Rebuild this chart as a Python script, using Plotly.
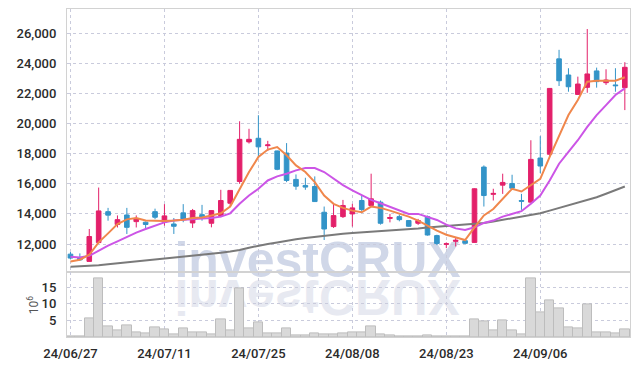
import plotly.graph_objects as go
from plotly.subplots import make_subplots

dates = ["24/06/27", "24/06/28",
         "24/07/01", "24/07/02", "24/07/03", "24/07/04", "24/07/05",
         "24/07/08", "24/07/09", "24/07/10", "24/07/11", "24/07/12",
         "24/07/15", "24/07/16", "24/07/17", "24/07/18", "24/07/19",
         "24/07/22", "24/07/23", "24/07/24", "24/07/25", "24/07/26",
         "24/07/29", "24/07/30", "24/07/31", "24/08/01", "24/08/02",
         "24/08/05", "24/08/06", "24/08/07", "24/08/08", "24/08/09",
         "24/08/12", "24/08/13", "24/08/14", "24/08/16",
         "24/08/19", "24/08/20", "24/08/21", "24/08/22", "24/08/23",
         "24/08/26", "24/08/27", "24/08/28", "24/08/29", "24/08/30",
         "24/09/02", "24/09/03", "24/09/04", "24/09/05", "24/09/06",
         "24/09/09", "24/09/10", "24/09/11", "24/09/12", "24/09/13",
         "24/09/19", "24/09/20", "24/09/23", "24/09/24"]

open_ = [11330, 11050, 10850, 12100, 14150, 13300, 13930, 13490, 13450, 14150,
         13450, 13330, 14070, 13400, 13950, 13380, 13890, 14710, 16150, 18780,
         19020, 18530, 18180, 18040, 16290, 15890, 15820, 14110, 13160, 13820,
         14000, 14890, 14560, 14780, 13700, 13820, 13560, 13380, 13820, 12560,
         11980, 12180, 12220, 12110, 17110, 15300, 15910, 16020, 14890, 14780,
         17710, 17960, 24290, 23220, 21930, 22400, 23490, 22710, 22560, 22380]
high = [11470, 11380, 13000, 15750, 14400, 13900, 14400, 13900, 13500, 14350,
        14650, 13730, 14650, 14330, 14600, 14250, 15600, 15560, 20150, 19650,
        20550, 18850, 18200, 18700, 16620, 16400, 16490, 14490, 14670, 14930,
        14670, 15220, 16670, 14890, 14000, 13960, 13580, 13670, 13890, 12620,
        12110, 12400, 12250, 15700, 17220, 15670, 16670, 16600, 15330, 18890,
        19160, 22350, 24890, 23670, 23110, 26270, 23710, 23600, 23670, 24070]
low = [10980, 10900, 10850, 12050, 13550, 13100, 12670, 13100, 12950, 13650,
       13220, 12670, 13450, 13070, 13550, 13110, 13780, 14490, 16000, 18670,
       17780, 18180, 16900, 16110, 15600, 15600, 14800, 12270, 13070, 13730,
       13160, 14110, 14510, 13290, 13440, 13510, 13150, 13270, 12560, 11930,
       11730, 11840, 12000, 12100, 14490, 14890, 15330, 15670, 14270, 14750,
       16710, 17780, 22490, 22110, 21900, 22040, 22380, 22560, 22110, 20890]
close = [11070, 10950, 12500, 14200, 13920, 13620, 13110, 13670, 13300, 13780,
         13870, 13180, 13670, 14220, 13740, 14220, 14890, 15560, 18950, 18950,
         18450, 18580, 16960, 16220, 15840, 15780, 14820, 13000, 13890, 14560,
         14400, 14290, 15000, 13380, 13760, 13620, 13180, 13560, 12600, 12040,
         12020, 12250, 12050, 15670, 15220, 15360, 16090, 15710, 14840, 17620,
         17180, 22330, 22840, 22440, 22620, 23290, 22780, 22890, 22510, 23730]

ma_short = [10840, 10960, 11290, 12110, 12710, 13330, 13640, 13730, 13560, 13530,
            13530, 13560, 13620, 13730, 13760, 13890, 14040, 14490, 15670, 16780,
            17780, 18270, 18440, 17890, 17220, 16780, 16110, 15220, 14670, 14400,
            14220, 14110, 14490, 14400, 14220, 14040, 13820, 13560, 13220, 12890,
            12620, 12440, 12270, 13110, 13900, 14330, 15000, 15670, 15490, 15930,
            16330, 17780, 19220, 20560, 21560, 22780, 22840, 22840, 22840, 23070]
ma_mid = [11160, 11110, 11220, 11560, 11890, 12180, 12490, 12760, 13000, 13220,
          13440, 13560, 13620, 13670, 13700, 13730, 13820, 14040, 14670, 15220,
          15670, 16220, 16490, 16670, 16890, 17040, 17040, 16780, 16330, 15910,
          15560, 15220, 14930, 14710, 14490, 14220, 14000, 14000, 13820, 13600,
          13290, 13040, 12930, 13110, 13400, 13560, 13820, 14000, 14180, 14670,
          15220, 16220, 17330, 18110, 18890, 19780, 20560, 21220, 21890, 22330]
ma_long = [10490, 10520, 10550, 10600, 10660, 10720, 10780, 10840, 10900, 10960,
           11020, 11080, 11140, 11200, 11270, 11340, 11420, 11500, 11600, 11760,
           11900, 12000, 12100, 12220, 12320, 12400, 12480, 12550, 12620, 12690,
           12730, 12770, 12800, 12830, 12880, 12930, 12980, 13040, 13100, 13150,
           13200, 13260, 13300, 13340, 13400, 13500, 13600, 13700, 13820, 13930,
           14040, 14220, 14390, 14560, 14740, 14920, 15110, 15340, 15580, 15820]

volume_m = [0.15, 0.1, 5.5, 17.5, 3.2, 2.0, 3.5, 1.3, 1.0, 2.8,
            2.2, 0.8, 2.6, 1.3, 1.3, 0.8, 5.2, 2.0, 14.5, 2.5,
            4.3, 1.2, 1.2, 2.6, 0.6, 0.6, 1.2, 0.9, 0.9, 1.2,
            1.5, 1.5, 3.1, 0.9, 0.6, 0.3, 0.3, 0.3, 0.6, 0.3,
            0.3, 0.3, 0.1, 5.2, 4.7, 2.0, 5.0, 2.0, 0.8, 17.5,
            7.3, 11.0, 8.6, 3.0, 2.7, 9.8, 1.3, 1.3, 1.0, 2.2]

tick_dates = ["24/06/27", "24/07/11", "24/07/25", "24/08/08", "24/08/23", "24/09/06"]
price_ticks = [12000, 14000, 16000, 18000, 20000, 22000, 24000, 26000]
vol_ticks = [5, 10, 15]

UP = "#e3206a"
DOWN = "#3394c8"
GRID = "#c9cbdc"
FRAME = "#d2d2d2"
TICKFONT = dict(family="Roboto, Liberation Sans, sans-serif", size=13, color="#2b2b2b",
                weight=500)

fig = make_subplots(rows=2, cols=1, shared_xaxes=True, vertical_spacing=0,
                    row_heights=[0.803, 0.197])

fig.add_trace(go.Scatter(x=dates, y=ma_long, mode="lines",
                         line=dict(color="#7a7a7a", width=2), hoverinfo="skip"), row=1, col=1)
fig.add_trace(go.Scatter(x=dates, y=ma_mid, mode="lines",
                         line=dict(color="#cc55e6", width=2), hoverinfo="skip"), row=1, col=1)
fig.add_trace(go.Scatter(x=dates, y=ma_short, mode="lines",
                         line=dict(color="#f0874c", width=2), hoverinfo="skip"), row=1, col=1)
fig.add_trace(go.Candlestick(x=dates, open=open_, high=high, low=low, close=close,
                             increasing=dict(line=dict(color=UP, width=1), fillcolor=UP),
                             decreasing=dict(line=dict(color=DOWN, width=1), fillcolor=DOWN),
                             whiskerwidth=0), row=1, col=1)
fig.add_trace(go.Bar(x=dates, y=volume_m,
                     marker=dict(color="#d9d9d9", line=dict(color="#bdbdbd", width=1))),
              row=2, col=1)

for row in (1, 2):
    fig.update_xaxes(type="category", range=[-0.37, 59.55], tickvals=tick_dates,
                     ticktext=tick_dates, showgrid=True, gridcolor=GRID, griddash="dot",
                     gridwidth=1, showline=True, mirror=True, linecolor=FRAME, linewidth=1,
                     ticks="", tickfont=TICKFONT, automargin=False, row=row, col=1)
fig.update_xaxes(showticklabels=False, rangeslider_visible=False, row=1, col=1)
fig.update_xaxes(showticklabels=True, ticklabelstandoff=4, row=2, col=1)

fig.update_yaxes(range=[10120, 27600], tickvals=price_ticks, tickformat=",",
                 showgrid=True, gridcolor=GRID, griddash="dot", gridwidth=1,
                 showline=True, mirror=True, linecolor=FRAME, linewidth=1,
                 zeroline=False, ticks="", tickfont=TICKFONT, ticklabelstandoff=7,
                 automargin=False, row=1, col=1)
fig.update_yaxes(range=[0, 19.4], tickvals=vol_ticks,
                 showgrid=True, gridcolor=GRID, griddash="dot", gridwidth=1,
                 showline=True, mirror=True, linecolor=FRAME, linewidth=1,
                 zeroline=False, ticks="", tickfont=TICKFONT, ticklabelstandoff=7,
                 automargin=False, row=2, col=1)

wm_font = dict(family="Liberation Sans, Arial, sans-serif", size=50, weight="bold")
fig.add_shape(type="rect", xref="paper", yref="paper", x0=0.30, x1=0.59, y0=0.20, y1=0.297,
              line=dict(width=0), fillcolor="rgba(0,0,0,0)", layer="below",
              label=dict(text="investCRUX", textposition="middle center",
                         font=dict(color="#d0d7e8", **wm_font)))
fig.add_shape(type="rect", xref="paper", yref="paper", x0=0.30, x1=0.59, y0=0.20, y1=0.297,
              line=dict(width=0), fillcolor="rgba(0,0,0,0)", layer="below",
              label=dict(text="investCRUX", textposition="middle center",
                         font=dict(color="#e7e9f1", **wm_font)))

fig.add_annotation(text="10<sup>6</sup>", xref="paper", yref="paper", x=-0.0604, y=0.10,
                   xanchor="center", yanchor="middle",
                   showarrow=False, textangle=-90,
                   font=dict(family="Roboto, Liberation Sans, sans-serif", size=12, color="#555"))

fig.update_layout(width=639, height=366, margin=dict(l=67, r=9, t=9, b=29),
                  paper_bgcolor="white", plot_bgcolor="white", showlegend=False,
                  bargap=0, hovermode=False)

post = """
var gd = document.getElementById('{plot_id}');
function flipWM(){
  var ts = gd.querySelectorAll('text');
  var f = [];
  for (var i = 0; i < ts.length; i++) { if (ts[i].textContent === 'investCRUX') f.push(ts[i]); }
  if (f.length > 1) {
    var t = f[1];
    var bb = t.getBBox();
    var base = bb.y + bb.height * 0.81 + 1;
    var tr = t.getAttribute('transform') || '';
    t.setAttribute('transform', tr + ' translate(0,' + (2 * base) + ') scale(1,-1)');
  }
}
flipWM();
"""
fig.write_html("out.html", post_script=post)
